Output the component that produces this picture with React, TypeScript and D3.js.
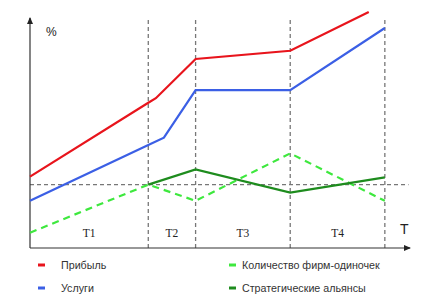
import React from "react";
import * as d3 from "d3";

const periods = ["T1", "T2", "T3", "T4"];
const boundaries = [0, 2.5, 3.5, 5.5, 7.5];
const baseline = 27.8;

const profitT = [0, 2.5, 2.66, 3.5, 5.5, 7.16];
const profitV = [31.3, 63.7, 65.7, 82.9, 86.5, 103.5];
const servicesT = [0, 2.5, 2.83, 3.5, 5.5, 7.5];
const servicesV = [20.7, 45.2, 48.4, 69.2, 69.2, 96.5];
const singleT = [0, 2.5, 3.5, 5.5, 7.5];
const singleV = [6.7, 27.8, 20.7, 41.5, 20.7];
const allianceT = [2.5, 3.5, 5.5, 7.5];
const allianceV = [27.8, 34.5, 24.3, 31];

const legendNames = ["Прибыль", "Услуги", "Количество фирм-одиночек", "Стратегические альянсы"];
const legendColors = ["#e8141c", "#3b5fe5", "#3ee83e", "#1e8c1e"];

export default function App() {
  const W = 428, H = 303;
  const x = d3.scaleLinear().domain([0, 8]).range([30, 408.5]);
  const y = d3.scaleLinear().domain([0, 100]).range([248, 20]);
  const line = d3.line<[number, number]>().x(d => x(d[0])).y(d => y(d[1]));
  const mk = (t: number[], v: number[]) => line(t.map((tt, i) => [tt, v[i]] as [number, number])) || "";
  const series = [
    { d: mk(profitT, profitV), c: legendColors[0], dash: undefined },
    { d: mk(servicesT, servicesV), c: legendColors[1], dash: undefined },
    { d: mk(singleT, singleV), c: legendColors[2], dash: "7,5" },
    { d: mk(allianceT, allianceV), c: legendColors[3], dash: undefined },
  ];
  const legendPos = [
    { lx: 38, tx: 61, y: 265 },
    { lx: 38, tx: 61, y: 288 },
    { lx: 229, tx: 242, y: 265 },
    { lx: 229, tx: 242, y: 288 },
  ];
  return (
    <svg width={W} height={H} style={{ position: "absolute", left: 0, top: 0, background: "#fff" }}>
      <defs>
        <marker id="arr" markerWidth="8" markerHeight="8" refX="6" refY="4" orient="auto" markerUnits="userSpaceOnUse">
          <path d="M0,1 L7,4 L0,7 Z" fill="#222" />
        </marker>
      </defs>
      {boundaries.slice(1).map((b, i) => (
        <line key={i} x1={x(b)} x2={x(b)} y1={20} y2={y(0)} stroke="#777" strokeWidth={1.3} strokeDasharray="4,3" />
      ))}
      <line x1={x(0)} x2={x(8)} y1={y(baseline)} y2={y(baseline)} stroke="#777" strokeWidth={1.2} strokeDasharray="4,3" />
      <line x1={x(0)} x2={x(0)} y1={y(0)} y2={18} stroke="#333" strokeWidth={1.2} markerEnd="url(#arr)" />
      <line x1={x(0)} x2={410} y1={y(0)} y2={y(0)} stroke="#333" strokeWidth={1.2} markerEnd="url(#arr)" />
      {series.map((s, i) => (
        <path key={i} d={s.d} fill="none" stroke={s.c} strokeWidth={2.2} strokeDasharray={s.dash} />
      ))}
      {periods.map((p, i) => (
        <text key={p} x={x((boundaries[i] + boundaries[i + 1]) / 2)} y={237} textAnchor="middle"
          fontFamily="Liberation Serif, serif" fontSize={11.5} fill="#222">{p}</text>
      ))}
      <text x={46} y={36} fontFamily="Liberation Sans, Arial, sans-serif" fontSize={12} fill="#222">%</text>
      <text x={400} y={234} fontFamily="Liberation Sans, Arial, sans-serif" fontSize={14} fill="#222">T</text>
      {legendNames.map((n, i) => (
        <g key={n}>
          <line x1={legendPos[i].lx} x2={legendPos[i].lx + 7} y1={legendPos[i].y} y2={legendPos[i].y}
            stroke={legendColors[i]} strokeWidth={3} />
          <text x={legendPos[i].tx} y={legendPos[i].y + 3.8} fontFamily="Liberation Sans, Arial, sans-serif"
            fontSize={10.7} fill="#333">{n}</text>
        </g>
      ))}
    </svg>
  );
}
